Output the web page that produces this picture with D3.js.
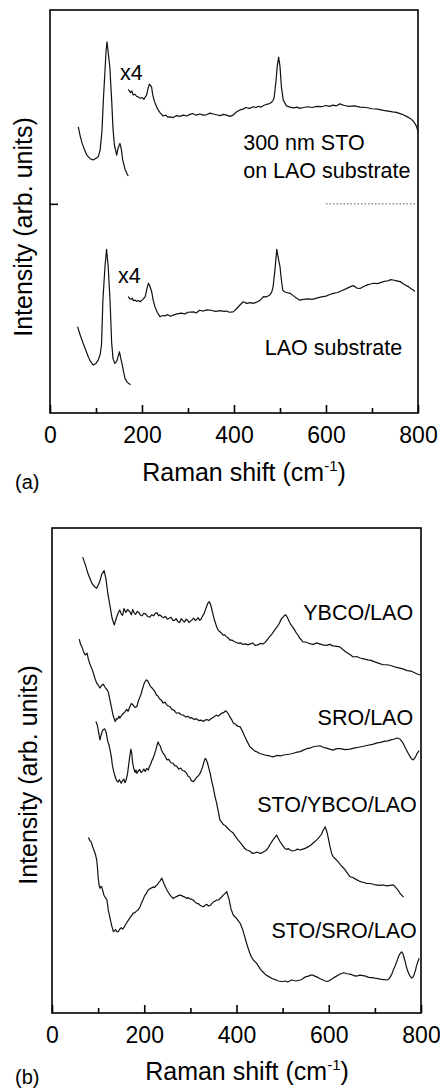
<!DOCTYPE html>
<html>
  <head>
    <meta charset="utf-8">
    <title>Raman spectra</title>
    <script src="https://d3js.org/d3.v7.min.js"></script>
    <style>
      body { margin: 0; background: #fff; }
      text { font-family: "Liberation Sans", Arial, sans-serif; fill: #000; }
    </style>
  </head>
  <body>
    <div id="grafico"></div>
    <script>
      // ---- dados (cm-1, intensidade arbitrária 0..100) ----
      const xTicksMaior = [0, 200, 400, 600, 800]
      const xTicksMenor = [100, 300, 500, 700]
      const yTicksA = [51.9]

      // painel (a) - filme de 300 nm de STO sobre LAO
      const stoBaixo = [[61.5,71.0],[66,68.5],[70,66.9],[75,65.3],[80,64.0],[87,63.1],[94,62.8],[100,63.2],[105,63.6],[109,65.3],[113,70],[116,77.7],[120,85.9],[122,90],[124,92.1],[126,90],[130,85.9],[134,77.7],[137,70.5],[140,66.5],[145,64.0],[148,65.7],[152,66.9],[155,65.5],[158,62.8],[163,60.5],[167,59.5],[170,58.8]]
      const stoX4 = [[170,80.3],[175,79.5],[178,79.9],[181,78.9],[185,79.1],[188,78.6],[192,78.4],[196,78.1],[200,78.3],[204,77.8],[207,78.4],[210,78.9],[213,80.5],[216,81.6],[219,81.2],[221,80.8],[223,79.2],[226,77.7],[230,76.4],[235,75.2],[240,74.4],[246,73.7],[252,73.9],[256,73.4],[261,73.5],[268,73.3],[275,73.8],[282,73.6],[290,73.9],[297,73.7],[304,74.1],[310,74.3],[318,73.9],[326,74.2],[333,73.9],[340,74.0],[348,74.4],[355,74.2],[362,74.0],[370,73.8],[377,74.1],[384,73.9],[391,73.6],[398,73.9],[405,74.7],[413,75.2],[420,75.4],[425,75.8],[434,75.6],[442,76.0],[448,75.8],[453,76.1],[459,75.9],[464,76.3],[471,76.6],[478,76.8],[484,77.4],[487,78.1],[491,82],[494,86],[497,88.3],[500,86],[503,81],[507,77.7],[514,76.2],[522,75.9],[530,75.7],[537,75.9],[543,75.6],[551,75.8],[560,76.0],[570,75.8],[580,76.1],[590,76.0],[600,76.3],[608,76.1],[615,76.4],[622,76.2],[630,76.7],[640,76.3],[650,76.1],[662,76.2],[674,75.9],[687,75.8],[700,75.5],[712,75.4],[725,75.1],[735,74.9],[745,74.7],[753,74.6],[761,74.3],[768,74.0],[775,73.6],[783,73.1],[790,72.4],[795,71.5],[797,71.0],[800,69.8]]

      // painel (a) - substrato LAO
      const laoBaixo = [[60,21.4],[66,19.2],[72,17.3],[78,15.5],[83,14.0],[88,12.8],[94,11.9],[100,12.3],[105,13.2],[109,14.5],[112,17],[115,28],[119.5,36.3],[123,40.6],[126.5,36.3],[130.5,28],[134,17.5],[137,13.5],[141,12.3],[145,12.8],[148,14],[151,15.2],[154,13.5],[157,12],[160,10.2],[163,8.6],[168,7.6],[175,7.0]]
      const laoX4 = [[170,28.9],[173,28.4],[176,28.2],[179,28.5],[181,27.9],[185,28.0],[188,27.7],[192,27.9],[196,27.6],[199,27.9],[202,28.2],[207,28.9],[211,31],[214,32.2],[217,31.5],[221,30.1],[224,28.2],[228,26.4],[233,25],[239,23.9],[245,24.2],[250,24.1],[256,24.4],[262,24.0],[268,24.3],[276,24.6],[285,24.8],[293,24.6],[300,25.0],[312,25.1],[318,24.8],[325,25.5],[333,25.3],[341,25.6],[350,25.5],[360,25.2],[370,25.4],[378,25.2],[384,25.3],[390,25.0],[398,25.1],[405,25.8],[413,26.8],[420,27.6],[428,27.2],[435,27.4],[442,27.2],[449,27.5],[457,28.0],[464,28.9],[470,28.8],[478,29.3],[482,30.0],[485,31.3],[489,35.5],[493,40.6],[497,38],[500,36.3],[503,33],[506,30.5],[510,30.1],[514,29.9],[522,29.7],[530,29.0],[537,28.4],[543,28.0],[551,28.2],[560,28.3],[570,28.2],[580,28.5],[590,28.8],[600,29.0],[608,29.4],[616,29.7],[625,29.9],[635,30.4],[643,30.8],[652,31.3],[660,31.6],[667,31.0],[674,30.9],[682,31.4],[690,31.8],[697,32.0],[703,32.2],[712,32.1],[720,32.4],[728,32.7],[735,32.8],[741,33.1],[746,33.0],[754,32.8],[761,32.6],[768,32.1],[775,31.6],[780,31.3],[785,30.8],[789,30.6],[793,30.1]]

      // painel (b)
      const ybcoLao = [[66.6,94.0],[72,92.5],[78,90.6],[86,88.7],[92,87.9],[97,87.6],[103,88.8],[108,90.5],[113,91.2],[117,89.5],[121,86.5],[126,83.8],[130,81.5],[135,80.0],[140,81.6],[144,82.6],[147,83.1],[150,82.3],[153,82.0],[156,83.4],[160,82.6],[164,83.2],[169,82.7],[172,82.1],[175,83.2],[178,82.5],[181,82.2],[185,82.8],[188,82.6],[192,82.0],[195,81.9],[199,82.4],[203,82.3],[207,81.8],[212,81.6],[216,82.1],[220,81.9],[224,82.4],[228,82.5],[231,81.9],[234,82.1],[238,81.7],[242,81.5],[246,81.8],[250,81.2],[254,81.4],[258,81.6],[262,81.0],[265,80.9],[269,81.3],[273,80.7],[277,80.5],[280,81.3],[284,80.9],[287,80.6],[291,81.2],[294,81.0],[297,80.5],[300,80.8],[304,81.1],[307,81.4],[311,80.9],[314,81.2],[317,81.5],[320,81.0],[323,81.2],[325,81.6],[330,82.4],[335,83.8],[338,84.5],[341,84.8],[344,84.2],[346,83.4],[351,81.4],[357,79.6],[360,79.0],[364,78.6],[368,78.3],[371,77.9],[374,78.0],[378,77.6],[382,77.3],[386,76.9],[390,76.9],[395,76.6],[400,76.4],[404,76.2],[409,76.3],[414,76.0],[420,76.1],[425,75.9],[430,76.1],[435,76.3],[440,75.8],[446,75.9],[452,76.2],[457,76.1],[462,76.4],[466,76.9],[471,77.5],[476,78.0],[480,78.6],[483,79.0],[488,79.6],[492,80.2],[495,80.8],[498,81.4],[501,81.6],[504,82.0],[507,82.1],[510,81.6],[512,81.2],[515,80.6],[517,80.2],[520,79.8],[523,79.4],[527,78.8],[530,78.3],[534,77.8],[537,77.3],[541,76.9],[544,76.5],[550,76.5],[555,76.3],[561,76.1],[567,76.0],[573,76.3],[580,76.1],[587,75.9],[595,75.8],[602,76.0],[609,75.7],[617,75.6],[624,75.5],[631,74.9],[638,74.4],[646,73.9],[653,73.4],[660,73.5],[668,73.2],[676,73.0],[685,72.8],[692,72.7],[700,72.4],[709,72.1],[718,71.8],[727,71.8],[736,71.6],[745,71.3],[754,71.1],[762,70.9],[770,70.6],[778,70.5],[785,70.2],[792,69.9],[798,69.7]]
      const sroLao = [[59,77.1],[62,76.0],[65,75.5],[68,74.6],[72,73.8],[76,74.2],[79,72.9],[82,72.0],[86,71.1],[90,70.0],[93,69.0],[97,68.0],[100,67.6],[104,67.0],[108,67.6],[111,67.8],[116,67.0],[119,66.7],[122,66.2],[125,64.8],[128,63.5],[132,61.5],[137,60.1],[140,60.7],[142,60.6],[145,61.2],[147,60.8],[151,61.4],[155,61.8],[158,62.1],[162,62.6],[165,62.2],[169,63.2],[172,63.8],[176,63.5],[180,63.0],[184,63.2],[187,64.3],[190,65.0],[193,65.7],[196,66.8],[198,67.4],[200,68.0],[203,68.5],[205,68.7],[208,68.4],[210,68.0],[213,67.4],[215,67.2],[218,66.9],[220,66.6],[223,66.3],[226,65.6],[230,65.3],[233,64.8],[237,64.5],[241,63.9],[245,64.1],[250,63.4],[255,63.2],[260,62.6],[265,62.4],[270,61.8],[275,61.9],[280,61.5],[285,61.4],[290,61.0],[295,61.2],[299,60.8],[303,60.9],[308,60.5],[313,60.7],[318,60.3],[323,60.4],[328,60.1],[332,60.4],[336,60.5],[340,60.3],[344,60.6],[348,60.9],[351,61.0],[354,61.3],[357,61.4],[361,61.2],[365,61.6],[369,61.9],[372,61.9],[376,62.3],[379,62.1],[383,61.6],[386,61.0],[390,60.4],[393,59.8],[397,59.6],[400,59.3],[404,59.1],[408,59.0],[413,58.1],[418,57.0],[423,56.0],[429,54.9],[434,54.5],[440,54.0],[445,53.8],[451,53.5],[458,53.3],[465,53.1],[472,53.0],[479,52.8],[487,53.1],[495,53.0],[502,53.2],[510,53.3],[517,53.4],[525,53.6],[531,53.8],[538,53.9],[545,54.2],[552,54.5],[559,54.6],[566,54.9],[573,55.0],[581,55.1],[588,54.8],[595,54.6],[602,54.4],[609,54.2],[617,54.5],[625,54.5],[635,54.3],[646,54.4],[655,54.6],[665,54.8],[675,55.0],[685,55.2],[695,55.4],[705,55.7],[712,55.8],[720,56.0],[728,56.1],[735,56.3],[742,56.5],[748,56.7],[754,56.5],[760,55.8],[765,54.9],[769,54.1],[772,53.6],[775,53.1],[778,52.6],[781,52.3],[783,52.2],[786,52.5],[789,53.0],[792,53.6],[796,54.1]]
      const stoYbcoLao = [[95,60.1],[97,59.7],[99,59.0],[102,57.4],[104,56.3],[107,57.5],[109,58.1],[111,58.4],[114,58.6],[117,58.0],[119,57.0],[121,56.0],[124,55.1],[126,54.2],[129,52.6],[131,51.0],[134,49.7],[137,48.7],[140,47.9],[143,47.6],[146,48.1],[150,47.4],[153,47.9],[156,48.2],[158,47.5],[160,47.8],[162,48.6],[164,49.5],[166,51.0],[168,52.5],[170,53.8],[171,54.4],[173,53.5],[174,52.2],[176,51.0],[178,50.2],[180,49.6],[182,50.1],[184,49.4],[187,49.9],[190,50.2],[193,49.6],[196,49.8],[199,50.3],[202,49.8],[205,50.4],[209,50.1],[211,50.8],[214,51.3],[216,51.9],[219,52.5],[222,53.3],[225,54.2],[228,55.3],[230,55.9],[232,55.4],[235,55.0],[237,54.3],[240,53.7],[244,53.2],[249,52.2],[253,52.3],[258,51.6],[262,51.5],[266,51.0],[270,50.9],[275,50.3],[279,50.5],[283,50.0],[287,49.9],[292,49.4],[295,48.8],[299,48.6],[302,47.9],[306,47.7],[310,48.1],[313,48.5],[317,48.9],[321,49.4],[324,50.1],[326,50.6],[329,51.6],[332,52.5],[334,52.3],[337,51.6],[340,50.5],[343,49.4],[346,47.9],[350,46.3],[353,44.8],[357,43.2],[361,41.3],[364,39.8],[368,39.3],[372,38.8],[376,38.6],[380,38.2],[386,37.6],[393,37.1],[399,36.2],[405,35.5],[410,34.9],[415,34.3],[418,33.9],[422,33.6],[426,33.5],[430,33.3],[435,32.9],[440,33.0],[445,33.2],[451,32.9],[455,33.0],[458,33.2],[462,33.4],[465,33.6],[469,34.1],[473,34.8],[477,35.4],[480,35.8],[484,36.3],[487,36.7],[490,36.1],[494,35.4],[498,34.8],[502,34.3],[505,33.9],[509,33.7],[512,33.9],[516,33.6],[521,33.4],[527,33.5],[532,33.8],[538,33.6],[544,33.8],[550,34.0],[556,34.3],[562,34.7],[568,35.2],[574,35.7],[578,36.1],[582,36.6],[585,37.0],[587,37.5],[590,38.0],[592,38.4],[594,37.9],[597,37.0],[600,35.6],[602,34.6],[604,33.8],[606,33.0],[608,32.5],[610,32.2],[615,31.7],[620,31.2],[626,30.5],[633,29.8],[640,28.9],[646,28.1],[653,27.9],[660,27.5],[666,27.2],[672,27.0],[677,26.9],[682,26.7],[688,26.7],[695,26.6],[702,26.4],[710,26.3],[718,26.4],[726,26.2],[733,26.3],[740,26.4],[744,26.0],[748,25.6],[752,25.1],[755,24.6],[758,24.3],[762,23.9]]
      const stoSroLao = [[79,36.2],[82,35.5],[84,35.4],[86,35.0],[88,34.3],[90,33.8],[92,33.3],[94,32.8],[97,31.5],[99,29.5],[100,28.0],[102,26.4],[104,25.7],[106,26.1],[108,26.0],[110,25.2],[112,24.5],[114,24.0],[116,23.8],[118,23.5],[119,23.3],[121,22.1],[122,21.2],[124,20.4],[126,19.5],[128,18.6],[130,17.8],[133,16.8],[135,16.9],[138,17.2],[141,16.7],[144,16.8],[147,17.3],[150,17.6],[153,17.3],[155,17.5],[158,18.0],[162,18.6],[166,19.2],[170,19.8],[173,20.1],[176,20.6],[180,20.7],[183,21.0],[187,21.3],[191,21.9],[194,22.7],[198,23.5],[201,24.2],[205,24.7],[208,25.3],[212,25.6],[216,25.8],[220,26.0],[223,25.9],[226,26.3],[229,26.5],[232,27.0],[235,27.3],[238,27.8],[241,27.1],[243,26.6],[246,26.0],[249,25.4],[252,24.9],[256,24.3],[259,24.0],[263,23.6],[266,23.8],[270,24.0],[274,24.2],[278,24.3],[281,24.2],[285,24.0],[288,23.9],[292,23.6],[295,23.8],[299,23.5],[302,23.5],[306,23.3],[310,22.9],[314,22.6],[318,22.5],[321,22.2],[325,22.0],[328,21.9],[332,22.2],[336,22.4],[339,22.1],[343,22.2],[347,22.6],[350,22.9],[354,23.1],[357,23.3],[361,23.3],[364,23.6],[368,23.9],[371,24.3],[375,24.6],[379,25.0],[381,24.3],[384,23.4],[386,22.4],[388,21.5],[391,20.7],[393,20.2],[397,19.8],[400,19.5],[404,19.0],[408,18.5],[411,17.8],[414,17.0],[417,16.0],[420,15.0],[424,13.7],[429,12.3],[432,11.6],[436,11.0],[440,10.6],[444,10.2],[448,9.6],[452,9.0],[455,8.7],[458,8.4],[462,8.0],[465,7.8],[470,7.5],[475,7.2],[480,7.0],[484,6.9],[488,6.7],[492,6.6],[497,6.5],[501,6.5],[506,6.6],[511,6.4],[515,6.6],[520,6.8],[524,6.7],[529,6.6],[533,6.7],[538,6.8],[543,7.0],[547,7.3],[551,7.5],[556,7.6],[561,7.8],[566,7.8],[570,7.6],[575,7.4],[580,7.1],[585,6.9],[590,6.7],[596,6.5],[600,6.6],[603,6.8],[607,7.0],[610,7.2],[615,7.5],[620,7.8],[626,8.1],[632,8.3],[636,8.2],[640,8.1],[645,8.0],[650,7.9],[655,7.7],[659,7.6],[664,7.7],[668,7.8],[674,7.7],[680,7.6],[685,7.4],[690,7.3],[695,7.3],[700,7.2],[706,7.1],[712,7.0],[719,6.9],[726,6.8],[730,7.0],[733,7.4],[737,8.1],[740,8.9],[743,9.5],[746,10.2],[749,11.0],[752,11.8],[755,12.3],[758,12.6],[761,12.2],[763,11.5],[766,10.5],[768,9.6],[771,8.7],[774,8.0],[777,7.5],[780,7.2],[783,7.5],[785,7.9],[788,8.8],[790,9.6],[793,10.5],[796,11.3]]

      // ---- desenho ----
      const largura = 440,
            altura = 1091

      const tela = d3.select('#grafico')
        .append('svg')
          .attr('width', largura)
          .attr('height', altura)

      tela.append('rect')
        .attr('width', largura)
        .attr('height', altura)
        .attr('fill', '#fff')

      function painel(cfg) {
        const x = d3.scaleLinear().domain([0, 800]).range([cfg.esquerda, cfg.direita])
        const y = d3.scaleLinear().domain([0, 100]).range([cfg.base, cfg.topo])
        const g = tela.append('g')

        // ticks menores e maiores, para dentro
        g.append('g')
          .attr('transform', `translate(0, ${cfg.base})`)
          .call(d3.axisBottom(x).tickValues(xTicksMenor).tickSize(-5).tickFormat(''))
          .call(a => a.select('.domain').remove())
        g.append('g')
          .attr('transform', `translate(0, ${cfg.base})`)
          .call(d3.axisBottom(x).tickValues(xTicksMaior).tickSize(-8).tickPadding(14).tickFormat(d3.format('d')))
          .call(a => a.select('.domain').remove())
          .call(a => a.selectAll('text')
            .attr('font-size', 23)
            .attr('font-family', '"Liberation Sans", Arial, sans-serif')
            .attr('fill', '#000'))

        if (cfg.yTicks) {
          g.append('g')
            .attr('transform', `translate(${cfg.esquerda}, 0)`)
            .call(d3.axisLeft(y).tickValues(cfg.yTicks).tickSize(-8).tickFormat(''))
            .call(a => a.select('.domain').remove())
        }
        g.selectAll('.tick line').attr('stroke', '#000').attr('stroke-width', 1.6)

        // moldura
        g.append('rect')
          .attr('x', cfg.esquerda)
          .attr('y', cfg.topo)
          .attr('width', cfg.direita - cfg.esquerda)
          .attr('height', cfg.base - cfg.topo)
          .attr('fill', 'none')
          .attr('stroke', '#000')
          .attr('stroke-width', 1.6)

        const linha = d3.line().x(d => x(d[0])).y(d => y(d[1]))
        g.selectAll('path.espectro')
          .data(cfg.series)
          .join('path')
            .attr('class', 'espectro')
            .attr('d', linha)
            .attr('fill', 'none')
            .attr('stroke', '#111')
            .attr('stroke-width', 1.2)
            .attr('stroke-linejoin', 'round')

        g.selectAll('text.rotulo')
          .data(cfg.rotulos)
          .join('text')
            .attr('class', 'rotulo')
            .attr('x', d => x(d.x))
            .attr('y', d => y(d.y))
            .attr('text-anchor', d => d.anchor)
            .attr('font-size', 21.5)
            .text(d => d.texto)

        // título do eixo x
        const tx = g.append('text')
          .attr('x', cfg.tituloX[0])
          .attr('y', cfg.tituloX[1])
          .attr('text-anchor', 'middle')
          .attr('font-size', 25)
        tx.append('tspan').text('Raman shift (cm')
        tx.append('tspan').attr('font-size', 15).attr('dy', -10).text('-1')
        tx.append('tspan').attr('dy', 10).text(')')

        g.append('text')
          .attr('transform', `translate(${cfg.tituloY[0]}, ${cfg.tituloY[1]}) rotate(-90)`)
          .attr('text-anchor', 'middle')
          .attr('font-size', 25)
          .text('Intensity (arb. units)')

        g.append('text')
          .attr('x', 15)
          .attr('y', cfg.letra[1])
          .attr('font-size', 20)
          .text(cfg.letra[0])

        return { x, y, g }
      }

      const pa = painel({
        esquerda: 50, direita: 418, topo: 10, base: 413,
        yTicks: yTicksA,
        series: [stoBaixo, stoX4, laoBaixo, laoX4],
        rotulos: [
          { texto: 'x4', x: 152, y: 82.6, anchor: 'start' },
          { texto: 'x4', x: 148, y: 32.3, anchor: 'start' },
          { texto: '300 nm STO', x: 420, y: 65.3, anchor: 'start' },
          { texto: 'on LAO substrate', x: 420, y: 58.3, anchor: 'start' },
          { texto: 'LAO substrate', x: 467, y: 14.4, anchor: 'start' }
        ],
        tituloX: [244, 481],
        tituloY: [32, 227],
        letra: ['(a)', 489]
      })

      // linha pontilhada separando os espectros
      pa.g.append('line')
        .attr('x1', pa.x(600))
        .attr('x2', pa.x(800))
        .attr('y1', pa.y(yTicksA[0]))
        .attr('y2', pa.y(yTicksA[0]))
        .attr('stroke', '#555')
        .attr('stroke-width', 1)
        .attr('stroke-dasharray', '1.5,2')

      painel({
        esquerda: 52, direita: 421, topo: 528, base: 1013,
        series: [ybcoLao, sroLao, stoYbcoLao, stoSroLao],
        rotulos: [
          { texto: 'YBCO/LAO', x: 783, y: 81.0, anchor: 'end' },
          { texto: 'SRO/LAO', x: 783, y: 59.4, anchor: 'end' },
          { texto: 'STO/YBCO/LAO', x: 791, y: 41.4, anchor: 'end' },
          { texto: 'STO/SRO/LAO', x: 791, y: 15.5, anchor: 'end' }
        ],
        tituloX: [247, 1080],
        tituloY: [37, 775],
        letra: ['(b)', 1084]
      })
    </script>
  </body>
</html>
